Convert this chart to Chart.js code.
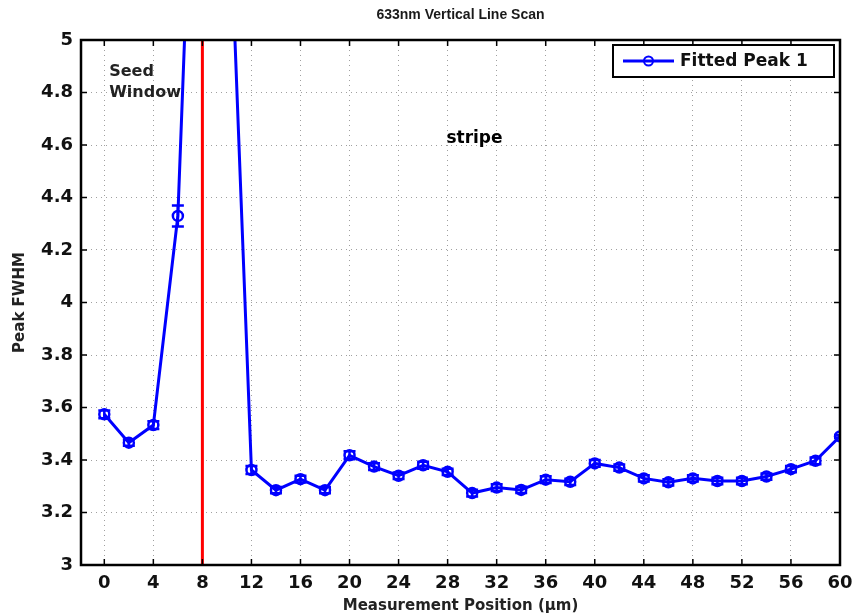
<!DOCTYPE html>
<html>
<head>
<meta charset="utf-8">
<script src="https://cdn.jsdelivr.net/npm/chart.js@4.4.1/dist/chart.umd.min.js"></script>
<style>
html, body { margin: 0; padding: 0; background: #fff; }
#wrap { width: 854px; height: 616px; }
</style>
</head>
<body>
<div id="wrap"><canvas id="lineScan" width="854" height="616"></canvas></div>
<script>
const positions = [0, 2, 4, 6, 8, 10, 12, 14, 16, 18, 20, 22, 24, 26, 28, 30,
    32, 34, 36, 38, 40, 42, 44, 46, 48, 50, 52, 54, 56, 58, 60];
const fwhm = [3.574, 3.466, 3.533, 4.33, 6.8, 5.8, 3.362, 3.285, 3.327, 3.285, 3.418,
    3.375, 3.34, 3.38, 3.355, 3.274, 3.295, 3.286, 3.325, 3.317, 3.387,
    3.371, 3.33, 3.315, 3.33, 3.32, 3.32, 3.337, 3.365, 3.397, 3.49];
const fwhmErr = [0.015, 0.012, 0.015, 0.04, 0.05, 0.05, 0.015, 0.012, 0.013, 0.012, 0.015,
    0.013, 0.012, 0.013, 0.012, 0.013, 0.013, 0.012, 0.013, 0.012, 0.013,
    0.012, 0.012, 0.012, 0.012, 0.012, 0.012, 0.012, 0.012, 0.013, 0.005];
// seed window edge (red marker)
const seedEdgeX = [8, 8];
const seedEdgeY = [3, 5];

const xTickVals = [0, 4, 8, 12, 16, 20, 24, 28, 32, 36, 40, 44, 48, 52, 56, 60];
const yTickVals = [3, 3.2, 3.4, 3.6, 3.8, 4, 4.2, 4.4, 4.6, 4.8, 5];

const BOLD = "'DejaVu Sans', sans-serif";

const errorBars = {
    id: 'errorBars',
    afterDatasetsDraw(chart) {
        const { ctx, chartArea, scales: { x, y } } = chart;
        ctx.save();
        ctx.beginPath();
        ctx.rect(chartArea.left, chartArea.top, chartArea.right - chartArea.left, chartArea.bottom - chartArea.top);
        ctx.clip();
        ctx.strokeStyle = '#0000ff';
        ctx.lineWidth = 2.5;
        positions.forEach((p, i) => {
            const px = x.getPixelForValue(p);
            const top = y.getPixelForValue(fwhm[i] + fwhmErr[i]);
            const bot = y.getPixelForValue(fwhm[i] - fwhmErr[i]);
            ctx.beginPath();
            ctx.moveTo(px, top); ctx.lineTo(px, bot);
            ctx.moveTo(px - 6, top); ctx.lineTo(px + 6, top);
            ctx.moveTo(px - 6, bot); ctx.lineTo(px + 6, bot);
            ctx.stroke();
        });
        ctx.restore();
    }
};

const frameAndNotes = {
    id: 'frameAndNotes',
    afterDraw(chart) {
        const { ctx, chartArea: a, scales: { x, y } } = chart;
        ctx.save();
        // inner tick marks on all four sides
        ctx.strokeStyle = '#000';
        ctx.lineWidth = 1.5;
        ctx.beginPath();
        xTickVals.forEach(v => {
            const px = x.getPixelForValue(v);
            ctx.moveTo(px, a.bottom); ctx.lineTo(px, a.bottom - 6);
            ctx.moveTo(px, a.top); ctx.lineTo(px, a.top + 6);
        });
        yTickVals.forEach(v => {
            const py = y.getPixelForValue(v);
            ctx.moveTo(a.left, py); ctx.lineTo(a.left + 6, py);
            ctx.moveTo(a.right, py); ctx.lineTo(a.right - 6, py);
        });
        ctx.stroke();

        // axes box
        ctx.lineWidth = 2.5;
        ctx.strokeRect(a.left, a.top, a.right - a.left, a.bottom - a.top);

        // title
        ctx.fillStyle = '#1a1a1a';
        ctx.font = "bold 14px 'Liberation Sans', Arial, sans-serif";
        ctx.textAlign = 'center';
        ctx.textBaseline = 'middle';
        ctx.fillText('633nm Vertical Line Scan', (a.left + a.right) / 2, 15);

        // annotations
        ctx.textAlign = 'left';
        ctx.textBaseline = 'alphabetic';
        ctx.fillStyle = '#222';
        ctx.font = 'bold 16px ' + BOLD;
        ctx.fillText('Seed', x.getPixelForValue(0.4), y.getPixelForValue(4.863));
        ctx.fillText('Window', x.getPixelForValue(0.4), y.getPixelForValue(4.783));
        ctx.fillStyle = '#000';
        ctx.font = 'bold 17px ' + BOLD;
        ctx.fillText('stripe', x.getPixelForValue(27.9), y.getPixelForValue(4.608));

        // legend box
        const ds = chart.data.datasets[0];
        const lx = 613, ly = 45, lw = 221, lh = 32;
        ctx.fillStyle = '#fff';
        ctx.fillRect(lx, ly, lw, lh);
        ctx.strokeStyle = '#000';
        ctx.lineWidth = 2;
        ctx.strokeRect(lx, ly, lw, lh);
        ctx.strokeStyle = ds.borderColor;
        ctx.lineWidth = 3;
        ctx.beginPath();
        ctx.moveTo(lx + 10, ly + lh / 2); ctx.lineTo(lx + 61, ly + lh / 2);
        ctx.stroke();
        ctx.lineWidth = 2;
        ctx.beginPath();
        ctx.arc(lx + 35.5, ly + lh / 2, 4.5, 0, Math.PI * 2);
        ctx.stroke();
        ctx.fillStyle = '#111';
        ctx.font = 'bold 17px ' + BOLD;
        ctx.textBaseline = 'middle';
        ctx.fillText(ds.label, lx + 67, ly + lh / 2 + 1);
        ctx.restore();
    }
};

const gridStyle = { color: '#a0a0a0', lineWidth: 1, drawTicks: false };

new Chart(document.getElementById('lineScan'), {
    type: 'line',
    data: {
        datasets: [{
            label: 'Fitted Peak 1',
            data: positions.map((p, i) => ({ x: p, y: fwhm[i] })),
            borderColor: '#0000ff',
            borderWidth: 3,
            pointRadius: 5,
            pointBorderWidth: 2.5,
            pointBackgroundColor: 'rgba(0,0,0,0)',
            pointBorderColor: '#0000ff',
            tension: 0
        }, {
            label: 'seed edge',
            data: seedEdgeX.map((p, i) => ({ x: p, y: seedEdgeY[i] })),
            borderColor: '#ff0000',
            borderWidth: 3,
            pointRadius: 0
        }]
    },
    options: {
        responsive: false,
        animation: false,
        devicePixelRatio: 1,
        layout: { padding: { left: 0, right: 14, top: 40, bottom: 0 } },
        plugins: {
            legend: { display: false },
            tooltip: { enabled: false },
            title: { display: false }
        },
        scales: {
            x: {
                type: 'linear',
                min: -1.9,
                max: 60,
                afterBuildTicks: s => { s.ticks = xTickVals.map(v => ({ value: v })); },
                afterFit: s => { s.height = 51; s.paddingLeft = 0; s.paddingRight = 0; },
                grid: gridStyle,
                border: { display: false, dash: [1, 4] },
                ticks: {
                    autoSkip: false,
                    maxRotation: 0,
                    padding: 8,
                    color: '#111',
                    font: { family: BOLD, size: 18, weight: 'bold' }
                },
                title: {
                    display: true,
                    text: 'Measurement Position (\u03bcm)',
                    color: '#222',
                    font: { family: BOLD, size: 15, weight: 'bold' },
                    padding: { top: 0, bottom: 1 }
                }
            },
            y: {
                min: 3,
                max: 5,
                afterBuildTicks: s => { s.ticks = yTickVals.map(v => ({ value: v })); },
                afterFit: s => { s.width = 81; s.paddingTop = 0; s.paddingBottom = 0; },
                grid: gridStyle,
                border: { display: false, dash: [1, 4] },
                ticks: {
                    padding: 8,
                    color: '#111',
                    font: { family: BOLD, size: 18, weight: 'bold' },
                    callback: v => String(+v.toFixed(1))
                },
                title: {
                    display: true,
                    text: 'Peak FWHM',
                    color: '#222',
                    font: { family: BOLD, size: 15, weight: 'bold' },
                    padding: { top: 11, bottom: 0 }
                }
            }
        }
    },
    plugins: [errorBars, frameAndNotes]
});
</script>
</body>
</html>
